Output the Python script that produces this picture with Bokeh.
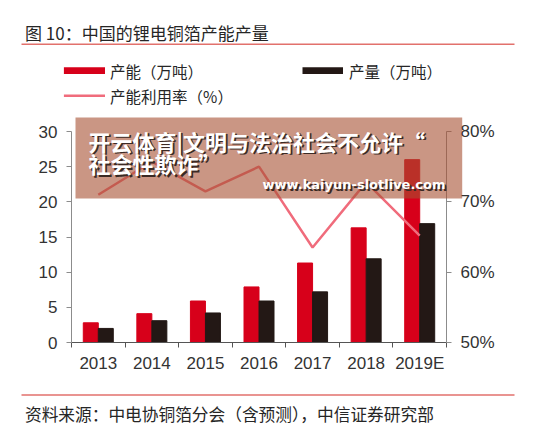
from bokeh.plotting import figure
from bokeh.models import Range1d, LinearAxis, FixedTicker, PrintfTickFormatter
from bokeh.core.properties import value
from bokeh.embed import file_html
from bokeh.resources import INLINE

# China lithium-battery copper foil: capacity, output and utilisation
years = ["2013", "2014", "2015", "2016", "2017", "2018", "2019E"]
capacity = [2.8, 4.1, 5.9, 7.9, 11.3, 16.3, 26.0]        # 万吨
output = [2.0, 3.1, 4.2, 5.9, 7.2, 11.9, 16.9]            # 万吨
utilization = [71.0, 75.7, 71.5, 75.0, 63.5, 72.8, 65.2]  # %
left_ticks = [0, 5, 10, 15, 20, 25, 30]
right_ticks = [50, 60, 70, 80]

W, H = 537, 437
FL, FR, FT, FB = 71, 446, 131, 342   # frame edges on the canvas
X0, X1 = -0.5, len(years) - 0.5
Y0, Y1 = 0, 30

RED = "#D7001A"
BLACK = "#231815"
PINK = "#F06C7C"
RULE = "#E2716C"
TXT = "#262626"
AX = "#8C8C8C"

idx = list(range(len(years)))
BW = 0.28

p = figure(width=W, height=H, output_backend="svg", toolbar_location=None,
           x_range=Range1d(X0, X1), y_range=Range1d(Y0, Y1),
           min_border_left=FL, min_border_right=W - FR,
           min_border_top=FT, min_border_bottom=H - FB)
p.outline_line_color = None
p.grid.visible = False
p.background_fill_color = "white"
p.border_fill_color = "white"

p.extra_y_ranges = {"pct": Range1d(50, 80)}

p.vbar(x=[i - BW / 2 for i in idx], top=capacity, width=BW, color=RED)
p.vbar(x=[i + BW / 2 for i in idx], top=output, width=BW, color=BLACK)
p.line(x=idx, y=utilization, y_range_name="pct", line_color=PINK, line_width=2.5)

# axes
xa = p.xaxis[0]
xa.ticker = FixedTicker(ticks=idx, minor_ticks=[i - 0.5 for i in range(len(years) + 1)])
xa.major_label_overrides = {i: y for i, y in zip(idx, years)}
xa.major_tick_line_color = None
xa.major_tick_out = 0
xa.major_tick_in = 0
xa.minor_tick_line_color = "#555555"
xa.minor_tick_out = 5
xa.minor_tick_in = 0
xa.axis_line_color = "#555555"
xa.major_label_standoff = 6

ya = p.yaxis[0]
ya.ticker = FixedTicker(ticks=left_ticks)

yr = LinearAxis(y_range_name="pct", ticker=FixedTicker(ticks=right_ticks),
                formatter=PrintfTickFormatter(format="%d%%"))
p.add_layout(yr, "right")

for a in (ya, yr):
    a.axis_line_color = AX
    a.major_tick_line_color = AX
    a.major_tick_out = 5
    a.major_tick_in = 0
    a.minor_tick_line_color = None
    a.major_label_standoff = 9

for a in (xa, ya, yr):
    a.major_label_text_font = "Liberation Sans"
    a.major_label_text_font_size = "17px"
    a.major_label_text_color = "#333333"


# page furniture is placed by pixel position on the canvas, converted
# through the plot's own scales, and drawn on the overlay level
def cx(px):
    return X0 + (px - FL) * (X1 - X0) / (FR - FL)


def cy(py):
    return Y0 + (FB - py) * (Y1 - Y0) / (FB - FT)


def box(x0, y0, x1, y1, color, alpha=1.0):
    p.quad(left=[cx(x0)], right=[cx(x1)], top=[cy(y0)], bottom=[cy(y1)],
           fill_color=color, fill_alpha=alpha, line_color=None, level="overlay")


def lab(text, x, y, size, color=TXT, font="Noto Sans CJK SC", style="normal"):
    p.text(x=[cx(x)], y=[cy(y)], text=[text], text_font=value(font),
           text_font_size=value(size), text_color=color, text_font_style=style,
           text_baseline="middle", text_align="left", level="overlay")


# heading, rules and source line
lab("图 10：中国的锂电铜箔产能产量", 24.5, 32, "17px")
box(21, 43, 514, 44.5, RULE)
box(21, 393.8, 514, 395.3, RULE)
lab("资料来源：中电协铜箔分会（含预测），中信证券研究部", 24.5, 413, "16.7px")

# legend
box(63.4, 66.8, 104.5, 73.6, RED)
lab("产能（万吨）", 109.6, 70.2, "15.5px")
box(302, 66.8, 342.5, 73.6, BLACK)
lab("产量（万吨）", 348.6, 70.2, "15.5px")
box(63.4, 94.0, 104.5, 96.4, PINK)
lab("产能利用率（%）", 109.6, 95.2, "15.5px")

# overlay banner with its slogan
box(75, 117, 461.7, 198, "#A75032", 0.6)
for dx, dy, col in ((1.8, 1.8, "#3B2A24"), (0, 0, "white")):
    lab("开云体育|文明与法治社会不允许“", 88 + dx, 140 + dy, "22px", color=col, style="bold")
    lab("社会性欺诈”", 88 + dx, 162.5 + dy, "22px", color=col, style="bold")
    lab("www.kaiyun-slotlive.com", 262 + dx, 184 + dy, "13px", color=col,
        font="DejaVu Sans", style="bold")

open("out.html", "w").write(file_html(p, INLINE))
